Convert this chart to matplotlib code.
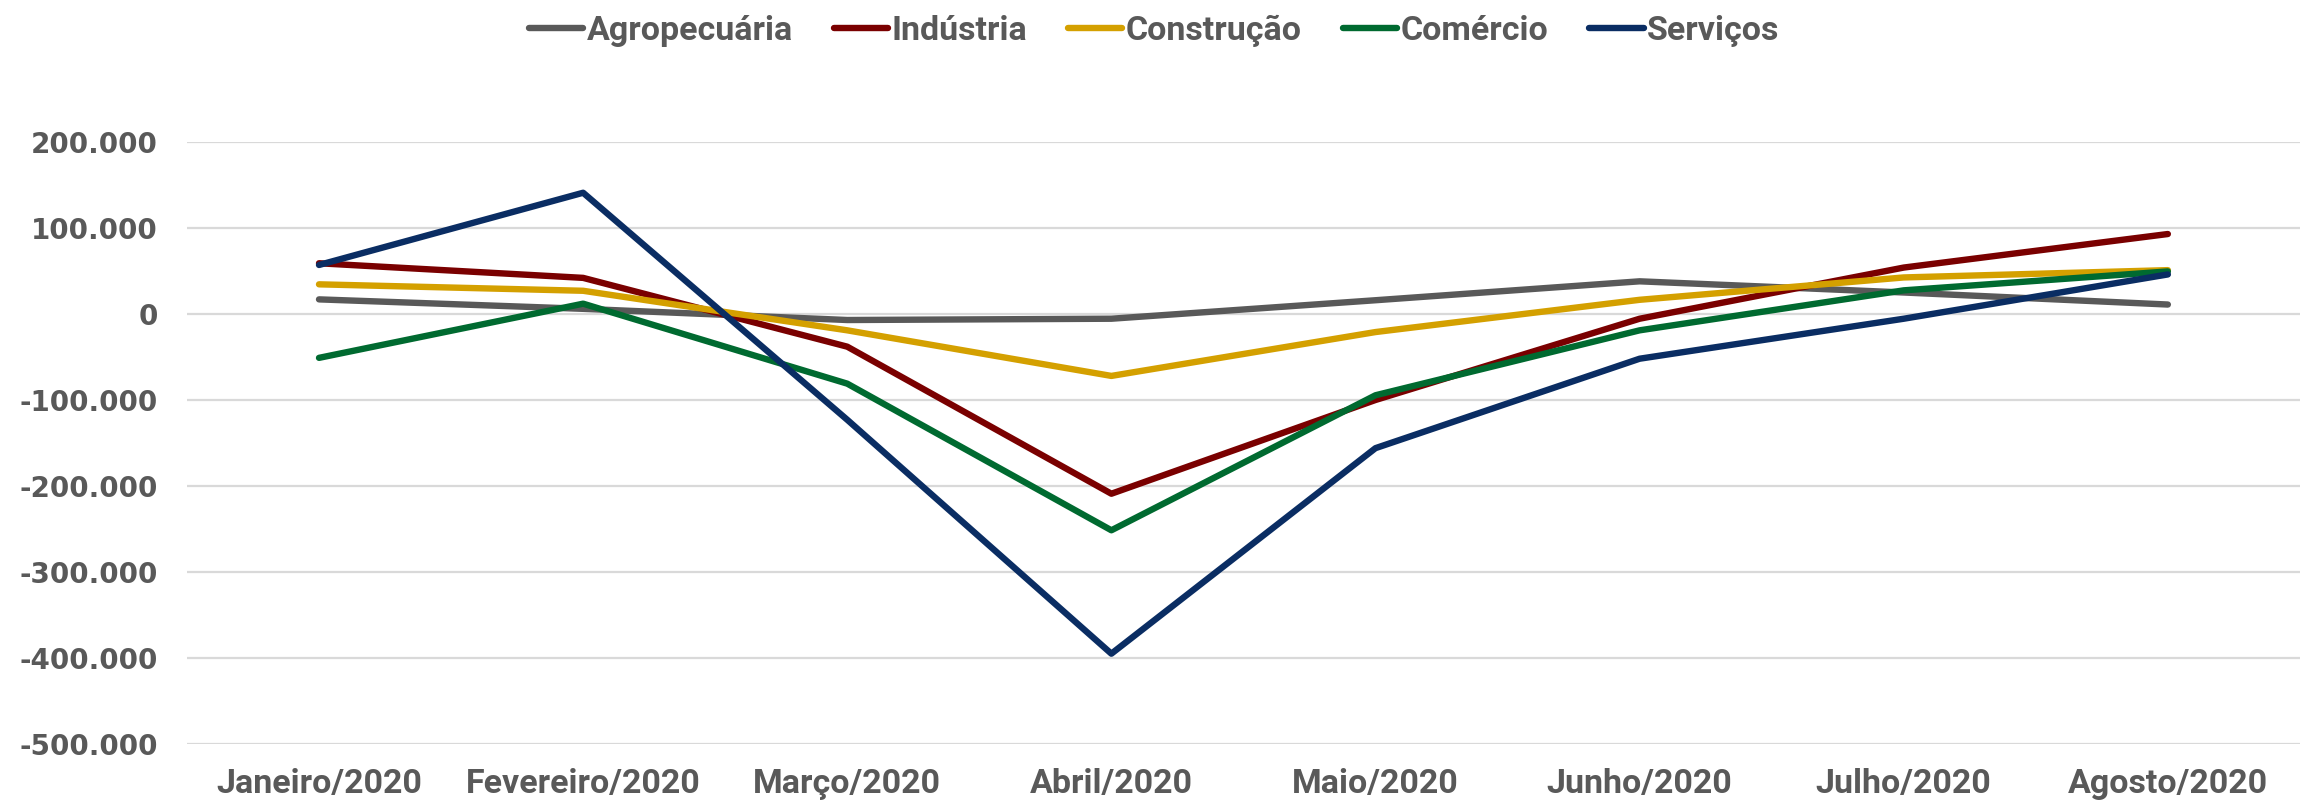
import matplotlib.pyplot as plt
from matplotlib.ticker import FuncFormatter, MultipleLocator

months = ['Janeiro/2020', 'Fevereiro/2020', 'Março/2020', 'Abril/2020',
          'Maio/2020', 'Junho/2020', 'Julho/2020', 'Agosto/2020']

agropecuaria = [17000, 6000, -7000, -5500, 16000, 38000, 25000, 11000]
industria = [59000, 42000, -38000, -209000, -100000, -5500, 54000, 93000]
construcao = [34500, 27000, -19000, -72000, -21000, 16500, 42500, 51000]
comercio = [-51000, 12000, -81000, -251500, -94500, -19000, 27500, 49500]
servicos = [57000, 141000, -123000, -395000, -156000, -52000, -5500, 46000]

series = [
    ('Agropecuária', agropecuaria, '#595959'),
    ('Indústria', industria, '#7a0000'),
    ('Construção', construcao, '#d4a000'),
    ('Comércio', comercio, '#006a30'),
    ('Serviços', servicos, '#0a2d63'),
]

label_font = ['Roboto', 'DejaVu Sans']
text_color = '#595959'

fig = plt.figure(figsize=(23.08, 8.05), dpi=100)
ax = fig.add_axes([0.081, 0.0758, 0.9155, 0.7478])

x = list(range(len(months)))
for name, vals, color in series:
    ax.plot(x, vals, color=color, lw=4.6, label=name,
            solid_capstyle='round', solid_joinstyle='round')

ax.set_xlim(-0.5, 7.5)
ax.set_ylim(-500000, 200000)
ax.yaxis.set_major_locator(MultipleLocator(100000))
ax.yaxis.set_major_formatter(FuncFormatter(lambda v, p: f'{int(v):,}'.replace(',', '.')))
ax.grid(axis='y', color='#d9d9d9', lw=1.6)
ax.set_axisbelow(True)
for s in ax.spines.values():
    s.set_visible(False)

ax.set_xticks(x)
ax.set_xticklabels(months, family=label_font, fontweight='bold', fontsize=24.5, color=text_color)
ax.tick_params(axis='x', length=0, pad=17)
ax.tick_params(axis='y', length=0, pad=21, labelsize=20, labelcolor=text_color)
for t in ax.get_yticklabels():
    t.set_fontweight('bold')

fig.legend(loc='upper center', bbox_to_anchor=(0.5, 1.02), ncol=5, frameon=False,
           prop={'family': label_font, 'weight': 'bold', 'size': 24.5},
           labelcolor=text_color, handlelength=1.6, handletextpad=0.1,
           columnspacing=1.2)

fig.savefig('out.png', dpi=100)
